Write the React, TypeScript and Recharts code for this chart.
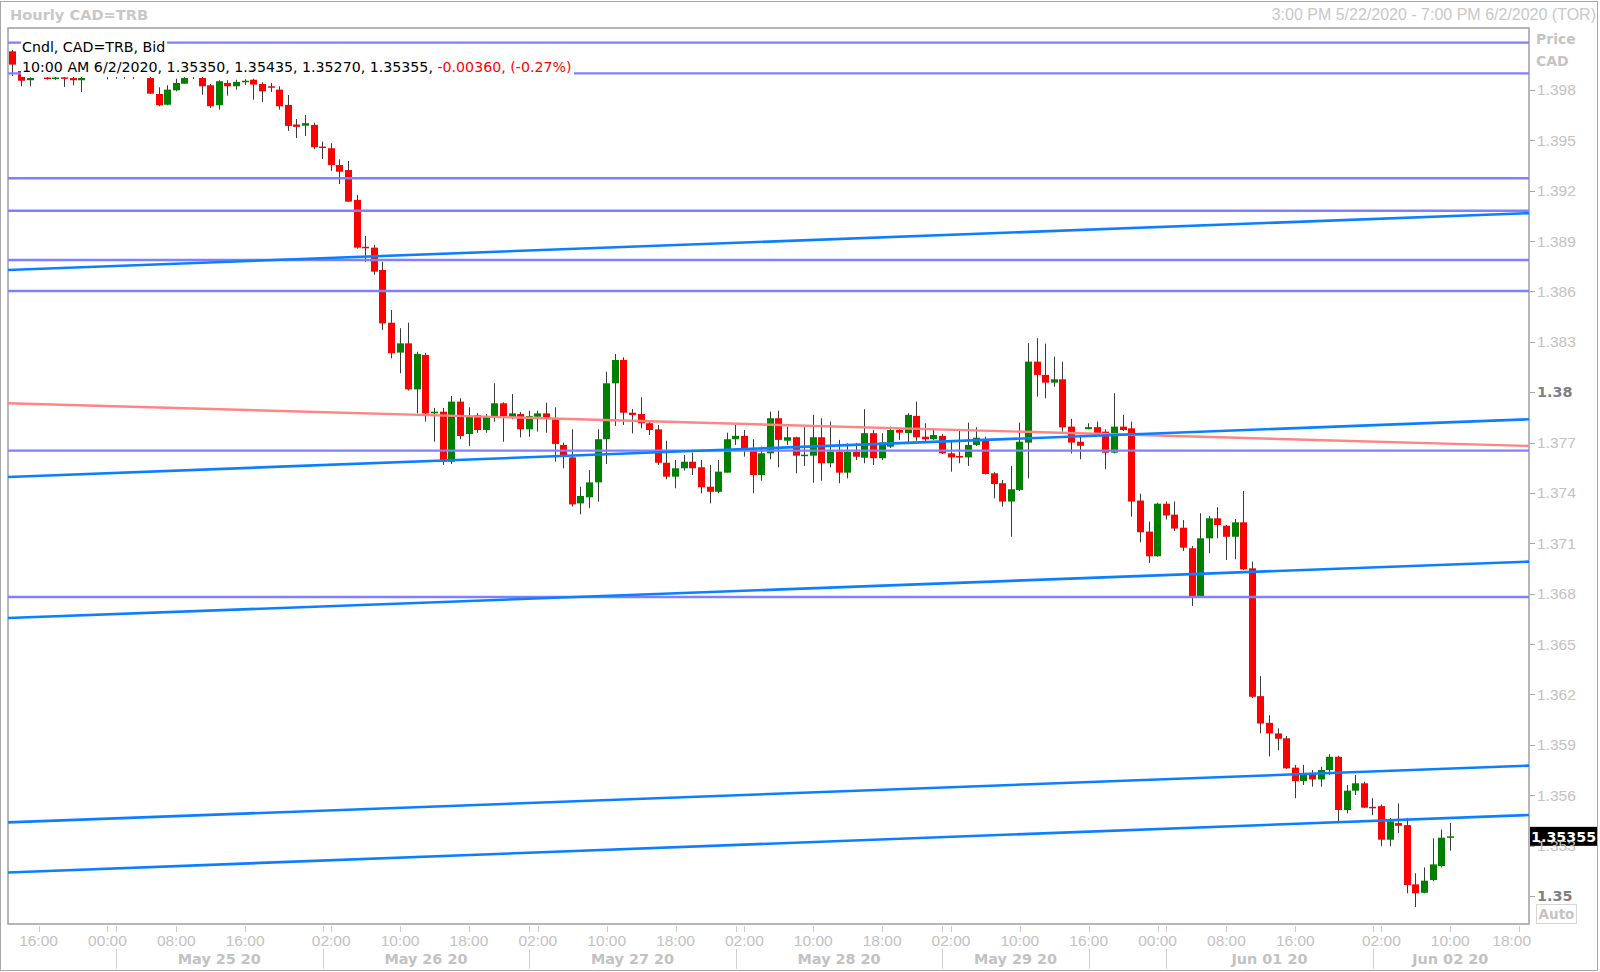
import React from 'react';
import { ComposedChart, Bar, XAxis, YAxis, ReferenceLine, ReferenceArea } from 'recharts';

// ---- hourly candles (slot = trading-hour index, Fri 22 May 15:00 ... Tue 2 Jun 10:00) ----
const opens = [
  1.40030, 1.39913, 1.39858, 1.39930, 1.39874, 1.39868, 1.39875, 1.39871, 1.39858, 1.39930,
  1.39920, 1.39919, 1.39913, 1.39920, 1.39910, 1.39920, 1.39871, 1.39776, 1.39712, 1.39798,
  1.39837, 1.39880, 1.39871, 1.39828, 1.39709, 1.39842, 1.39822, 1.39849, 1.39861, 1.39836,
  1.39822, 1.39802, 1.39711, 1.39594, 1.39587, 1.39592, 1.39463, 1.39453, 1.39353, 1.39323,
  1.39145, 1.38866, 1.38861, 1.38728, 1.38414, 1.38236, 1.38291, 1.38017, 1.38222, 1.37874,
  1.37884, 1.37586, 1.37944, 1.37751, 1.37864, 1.37775, 1.37858, 1.37934, 1.37851, 1.37870,
  1.37779, 1.37854, 1.37874, 1.37839, 1.37686, 1.37612, 1.37338, 1.37374, 1.37463, 1.37720,
  1.38053, 1.38192, 1.37878, 1.37870, 1.37815, 1.37779, 1.37580, 1.37497, 1.37547, 1.37586,
  1.37553, 1.37437, 1.37407, 1.37521, 1.37720, 1.37740, 1.37660, 1.37507, 1.37636, 1.37845,
  1.37711, 1.37732, 1.37624, 1.37622, 1.37732, 1.37577, 1.37646, 1.37521, 1.37646, 1.37610,
  1.37756, 1.37607, 1.37676, 1.37775, 1.37756, 1.37859, 1.37735, 1.37720, 1.37740, 1.37636,
  1.37620, 1.37612, 1.37686, 1.37722, 1.37517, 1.37458, 1.37349, 1.37418, 1.37700, 1.38182,
  1.38103, 1.38057, 1.38077, 1.37795, 1.37705, 1.37780, 1.37792, 1.37765, 1.37640, 1.37795,
  1.37785, 1.37355, 1.37170, 1.37023, 1.37336, 1.37271, 1.37193, 1.37071, 1.36782, 1.37130,
  1.37249, 1.37205, 1.37139, 1.37225, 1.36951, 1.36190, 1.36031, 1.35968, 1.35939, 1.35764,
  1.35684, 1.35726, 1.35694, 1.35750, 1.35829, 1.35512, 1.35627, 1.35671, 1.35531, 1.35535,
  1.35335, 1.35434, 1.35422, 1.35069, 1.35019, 1.35095, 1.35178, 1.35350,
];
const highs = [
  1.40038, 1.39930, 1.39875, 1.39950, 1.39900, 1.39890, 1.39880, 1.39880, 1.39880, 1.39940,
  1.39935, 1.39930, 1.39930, 1.39930, 1.39930, 1.39930, 1.39901, 1.39816, 1.39828, 1.39867,
  1.39900, 1.39910, 1.39900, 1.39836, 1.39858, 1.39858, 1.39861, 1.39864, 1.39867, 1.39846,
  1.39842, 1.39822, 1.39770, 1.39627, 1.39651, 1.39605, 1.39492, 1.39483, 1.39387, 1.39377,
  1.39175, 1.38930, 1.38877, 1.38777, 1.38490, 1.38381, 1.38414, 1.38241, 1.38235, 1.37906,
  1.37906, 1.37977, 1.37964, 1.37910, 1.37876, 1.37870, 1.38053, 1.37940, 1.37989, 1.37882,
  1.37890, 1.37890, 1.37938, 1.37910, 1.37700, 1.37779, 1.37437, 1.37537, 1.37779, 1.38122,
  1.38228, 1.38208, 1.37900, 1.37970, 1.37830, 1.37805, 1.37711, 1.37596, 1.37626, 1.37640,
  1.37596, 1.37567, 1.37596, 1.37759, 1.37805, 1.37775, 1.37720, 1.37676, 1.37884, 1.37890,
  1.37795, 1.37735, 1.37791, 1.37865, 1.37845, 1.37825, 1.37716, 1.37696, 1.37698, 1.37899,
  1.37775, 1.37756, 1.37795, 1.37785, 1.37875, 1.37944, 1.37815, 1.37775, 1.37751, 1.37705,
  1.37775, 1.37819, 1.37791, 1.37735, 1.37524, 1.37477, 1.37561, 1.37819, 1.38292, 1.38322,
  1.38289, 1.38212, 1.38182, 1.37841, 1.37745, 1.37815, 1.37825, 1.37779, 1.37994, 1.37865,
  1.37825, 1.37396, 1.37229, 1.37342, 1.37349, 1.37349, 1.37239, 1.37084, 1.37279, 1.37263,
  1.37315, 1.37209, 1.37245, 1.37412, 1.36991, 1.36309, 1.36076, 1.35998, 1.35953, 1.35780,
  1.35780, 1.35750, 1.35770, 1.35845, 1.35835, 1.35661, 1.35720, 1.35681, 1.35582, 1.35545,
  1.35464, 1.35551, 1.35464, 1.35135, 1.35170, 1.35343, 1.35396, 1.35435,
];
const lows = [
  1.39883, 1.39822, 1.39822, 1.39905, 1.39862, 1.39860, 1.39818, 1.39828, 1.39788, 1.39915,
  1.39910, 1.39863, 1.39867, 1.39867, 1.39867, 1.39905, 1.39776, 1.39703, 1.39709, 1.39792,
  1.39836, 1.39865, 1.39772, 1.39693, 1.39683, 1.39766, 1.39802, 1.39830, 1.39742, 1.39728,
  1.39788, 1.39683, 1.39556, 1.39514, 1.39526, 1.39447, 1.39389, 1.39318, 1.39240, 1.39133,
  1.38855, 1.38776, 1.38700, 1.38371, 1.38202, 1.38113, 1.38010, 1.37874, 1.37825, 1.37706,
  1.37567, 1.37572, 1.37720, 1.37680, 1.37759, 1.37759, 1.37825, 1.37705, 1.37839, 1.37731,
  1.37735, 1.37765, 1.37759, 1.37586, 1.37547, 1.37320, 1.37273, 1.37309, 1.37348, 1.37572,
  1.37799, 1.37805, 1.37755, 1.37785, 1.37745, 1.37567, 1.37481, 1.37428, 1.37533, 1.37507,
  1.37398, 1.37338, 1.37398, 1.37521, 1.37686, 1.37616, 1.37398, 1.37473, 1.37601, 1.37553,
  1.37686, 1.37517, 1.37561, 1.37461, 1.37473, 1.37553, 1.37458, 1.37487, 1.37596, 1.37577,
  1.37567, 1.37596, 1.37668, 1.37716, 1.37696, 1.37711, 1.37705, 1.37716, 1.37632, 1.37527,
  1.37577, 1.37561, 1.37680, 1.37510, 1.37368, 1.37319, 1.37139, 1.37412, 1.37487, 1.37974,
  1.37964, 1.38033, 1.37765, 1.37636, 1.37601, 1.37779, 1.37750, 1.37541, 1.37636, 1.37769,
  1.37259, 1.37106, 1.36983, 1.37021, 1.37242, 1.37173, 1.37054, 1.36727, 1.36780, 1.37041,
  1.37130, 1.37001, 1.37005, 1.36941, 1.36178, 1.35968, 1.35831, 1.35868, 1.35757, 1.35582,
  1.35661, 1.35651, 1.35651, 1.35720, 1.35442, 1.35492, 1.35601, 1.35524, 1.35481, 1.35296,
  1.35296, 1.35374, 1.35016, 1.34934, 1.35016, 1.35088, 1.35170, 1.35270,
];
const closes = [
  1.39951, 1.39855, 1.39871, 1.39915, 1.39868, 1.39874, 1.39870, 1.39858, 1.39871, 1.39920,
  1.39925, 1.39907, 1.39919, 1.39910, 1.39920, 1.39910, 1.39778, 1.39709, 1.39802, 1.39842,
  1.39871, 1.39890, 1.39822, 1.39703, 1.39852, 1.39822, 1.39848, 1.39855, 1.39832, 1.39792,
  1.39818, 1.39703, 1.39586, 1.39580, 1.39602, 1.39459, 1.39455, 1.39353, 1.39313, 1.39135,
  1.38861, 1.38857, 1.38718, 1.38410, 1.38232, 1.38291, 1.38017, 1.38228, 1.37874, 1.37884,
  1.37586, 1.37944, 1.37739, 1.37854, 1.37775, 1.37858, 1.37934, 1.37858, 1.37874, 1.37779,
  1.37858, 1.37874, 1.37844, 1.37692, 1.37620, 1.37332, 1.37382, 1.37463, 1.37720, 1.38053,
  1.38192, 1.37878, 1.37864, 1.37815, 1.37775, 1.37580, 1.37497, 1.37547, 1.37586, 1.37547,
  1.37434, 1.37407, 1.37527, 1.37720, 1.37740, 1.37660, 1.37507, 1.37636, 1.37845, 1.37716,
  1.37732, 1.37622, 1.37628, 1.37732, 1.37577, 1.37646, 1.37521, 1.37646, 1.37616, 1.37756,
  1.37607, 1.37700, 1.37775, 1.37759, 1.37865, 1.37732, 1.37720, 1.37745, 1.37636, 1.37612,
  1.37612, 1.37686, 1.37729, 1.37513, 1.37453, 1.37349, 1.37422, 1.37705, 1.38182, 1.38103,
  1.38057, 1.38077, 1.37791, 1.37700, 1.37681, 1.37792, 1.37752, 1.37640, 1.37795, 1.37775,
  1.37349, 1.37166, 1.37023, 1.37336, 1.37266, 1.37188, 1.37074, 1.36780, 1.37130, 1.37249,
  1.37209, 1.37139, 1.37225, 1.36945, 1.36186, 1.36027, 1.35968, 1.35936, 1.35760, 1.35684,
  1.35726, 1.35694, 1.35750, 1.35829, 1.35512, 1.35627, 1.35671, 1.35526, 1.35527, 1.35335,
  1.35444, 1.35418, 1.35065, 1.35016, 1.35091, 1.35188, 1.35347, 1.35355,
];

// ---- axes ----
const X_MIN = -0.55;
const X_MAX = 176.15;
const Y_MIN = 1.34833;
const Y_MAX = 1.40169;

const timeTickSlots = [3, 11, 19, 27, 37, 45, 53, 61, 69, 77, 85, 93, 101, 109, 117, 125, 133, 141, 149, 159, 167, 175];
const timeTickLabels = ['16:00', '00:00', '08:00', '16:00', '02:00', '10:00', '18:00', '02:00', '10:00', '18:00', '02:00',
  '10:00', '18:00', '02:00', '10:00', '16:00', '00:00', '08:00', '16:00', '02:00', '10:00', '18:00'];
const daySepSlots = [12, 36, 60, 84, 108, 125, 134, 158];
const dateLabelSlots = [24, 48, 72, 96, 116.5, 146, 167];
const dateLabels = ['May 25 20', 'May 26 20', 'May 27 20', 'May 28 20', 'May 29 20', 'Jun 01 20', 'Jun 02 20'];

const yTickValues = [1.398, 1.395, 1.392, 1.389, 1.386, 1.383, 1.38, 1.377, 1.374, 1.371, 1.368, 1.365, 1.362, 1.359, 1.356, 1.353, 1.35];
const yTickLabels = ['1.398', '1.395', '1.392', '1.389', '1.386', '1.383', '1.38', '1.377', '1.374', '1.371', '1.368', '1.365',
  '1.362', '1.359', '1.356', '1.353', '1.35'];
const yBoldLabels = ['1.38', '1.35'];

// ---- drawn studies ----
const horizontalLevels = [1.40082, 1.39899, 1.39274, 1.39081, 1.38787, 1.38603, 1.37652, 1.36780];
const trendStart = [1.38728, 1.37495, 1.36655, 1.35438, 1.35140];
const trendEnd = [1.39066, 1.37839, 1.36991, 1.35776, 1.35482];
const redLineStart = 1.37934;
const redLineEnd = 1.37680;

const lastInfoTime = '10:00 AM 6/2/2020';
const changeText = '-0.00360, (-0.27%)';

const candles = opens.map((o, i) => ({ slot: i, o, h: highs[i], l: lows[i], c: closes[i] }));
const last = candles[candles.length - 1];

const FONT = "'Liberation Sans', Arial, sans-serif";
const FONT_V = "'DejaVu Sans', Verdana, sans-serif";
const LABEL_GRAY = '#c2c2c2';

const Candle = (props: any) => {
  const { x, y, width, height, payload } = props;
  if (x == null || y == null || !payload) return null;
  const { o, h, l, c } = payload;
  const k = h - l > 0 ? height / (h - l) : 0;
  const yOf = (p: number) => y + (h - p) * k;
  const cx = x + width / 2;
  const bx = Math.round(cx - 3.5);
  const wx = bx + 3.5;
  const up = c >= o;
  const top = yOf(Math.max(o, c));
  const bot = yOf(Math.min(o, c));
  const bh = Math.max(bot - top, 1.5);
  return (
    <g>
      <line x1={wx} x2={wx} y1={y} y2={y + height} stroke="#3a3a3a" strokeWidth={1} />
      <rect x={bx} y={top} width={7} height={bh} fill={up ? '#008000' : '#ff0000'} />
    </g>
  );
};

const allTimeTicks = Array.from(new Set([...timeTickSlots, ...daySepSlots])).sort((a, b) => a - b);
const allDateTicks = [...daySepSlots, ...dateLabelSlots].sort((a, b) => a - b);

const TimeTick = (props: any) => {
  const { x, y, payload } = props;
  const v = payload.value;
  const idx = timeTickSlots.indexOf(v);
  const tx = Math.round(x) + 0.5;
  const isLast = idx === timeTickSlots.length - 1;
  return (
    <g>
      <line x1={tx} x2={tx} y1={y + 2} y2={y + 8} stroke="#cccccc" />
      {idx >= 0 && (
        <text x={isLast ? x + 12 : x} y={y + 16} textAnchor={isLast ? 'end' : 'middle'} dominantBaseline="central"
          fontFamily={FONT} fontSize={15.5} fill={LABEL_GRAY}>{timeTickLabels[idx]}</text>
      )}
    </g>
  );
};

const DateTick = (props: any) => {
  const { x, y, payload } = props;
  const v = payload.value;
  const li = dateLabelSlots.indexOf(v);
  if (li >= 0) {
    return (
      <text x={x} y={y + 13} textAnchor="middle" dominantBaseline="central" fontFamily={FONT_V}
        fontWeight="bold" fontSize={14.4} fill={LABEL_GRAY}>{dateLabels[li]}</text>
    );
  }
  const tx = Math.round(x) + 0.5;
  return <line x1={tx} x2={tx} y1={y + 3} y2={y + 23} stroke="#d0d0d0" />;
};

const PriceTick = (props: any) => {
  const { x, y, payload } = props;
  const i = yTickValues.indexOf(payload.value);
  if (i < 0) return null;
  const label = yTickLabels[i];
  const bold = yBoldLabels.includes(label);
  const ty = Math.round(y) + 0.5;
  return (
    <g>
      <line x1={x + 1} x2={x + 6} y1={ty} y2={ty} stroke="#a8a8a8" />
      {bold ? (
        <text x={x + 8} y={y} dominantBaseline="central" fontFamily={FONT_V} fontWeight="bold" fontSize={14.4} fill="#808080">{label}</text>
      ) : (
        <text x={x + 8} y={y} dominantBaseline="central" fontFamily={FONT} fontSize={15.5} fill={LABEL_GRAY}>{label}</text>
      )}
    </g>
  );
};

const PriceTag = (props: any) => {
  const vb = props.viewBox || {};
  if (vb.x == null) return null;
  const right = vb.x + vb.width;
  const cy = vb.y;
  return (
    <g>
      <rect x={right + 1} y={cy - 9.5} width={68} height={19} fill="#000" />
      <text x={right + 2} y={cy + 0.5} dominantBaseline="central" fill="#fff" fontFamily={FONT_V} fontWeight="bold" fontSize={14.3}>
        {last.c.toFixed(5)}
      </text>
    </g>
  );
};

export default function App() {
  return (
    <div style={{ position: 'absolute', left: 0, top: 0, width: 1600, height: 972, background: '#fff', overflow: 'hidden' }}>
      <ComposedChart width={1600} height={972} data={candles} margin={{ top: 28, right: 0, bottom: 0, left: 8 }}>
        <XAxis xAxisId={0} type="number" dataKey="slot" domain={[X_MIN, X_MAX]} allowDataOverflow ticks={allTimeTicks}
          interval={0} tick={<TimeTick />} tickLine={false} axisLine={false} tickSize={0} tickMargin={0} height={22} />
        <XAxis xAxisId="date" type="number" dataKey="slot" domain={[X_MIN, X_MAX]} allowDataOverflow ticks={allDateTicks}
          interval={0} tick={<DateTick />} tickLine={false} axisLine={false} tickSize={0} tickMargin={0} height={26} />
        <YAxis yAxisId={0} type="number" orientation="right" width={71} domain={[Y_MIN, Y_MAX]} allowDataOverflow
          ticks={yTickValues} interval={0} tick={<PriceTick />} tickLine={false} axisLine={false} tickSize={0} tickMargin={0} />
        <ReferenceArea xAxisId={0} yAxisId={0} x1={X_MIN} x2={X_MAX} y1={Y_MIN} y2={Y_MAX} fill="none" fillOpacity={0}
          stroke="#a0a0a0" strokeWidth={1.5} ifOverflow="visible" />
        <Bar xAxisId={0} yAxisId={0} dataKey={(d: any) => [d.l, d.h]} shape={<Candle />} barCategoryGap={0.3}
          isAnimationActive={false} />
        {horizontalLevels.map((v, i) => (
          <ReferenceLine key={'h' + i} xAxisId={0} yAxisId={0} y={v} stroke="#8080ff" strokeWidth={2.4} ifOverflow="hidden" />
        ))}
        <ReferenceLine xAxisId={0} yAxisId={0} segment={[{ x: X_MIN, y: redLineStart }, { x: X_MAX, y: redLineEnd }]}
          stroke="#ff8585" strokeWidth={2.4} ifOverflow="visible" />
        {trendStart.map((v, i) => (
          <ReferenceLine key={'t' + i} xAxisId={0} yAxisId={0} segment={[{ x: X_MIN, y: v }, { x: X_MAX, y: trendEnd[i] }]}
            stroke="#0a80ff" strokeWidth={2.6} ifOverflow="visible" />
        ))}
        <ReferenceLine xAxisId={0} yAxisId={0} y={last.c} stroke="none" ifOverflow="visible" label={<PriceTag />} />
      </ComposedChart>

      {/* outer frame */}
      <div style={{ position: 'absolute', left: 0, top: 1, width: 1598, height: 970, boxSizing: 'border-box', border: '1px solid #a8a8a8', pointerEvents: 'none' }} />

      {/* header */}
      <div style={{ position: 'absolute', left: 10, top: 6, fontFamily: FONT_V, fontWeight: 'bold', fontSize: 14.6, color: '#c8c8c8', whiteSpace: 'nowrap' }}>
        Hourly CAD=TRB
      </div>
      <div style={{ position: 'absolute', right: 4, top: 6, fontFamily: FONT, fontSize: 16, color: '#c8c8c8', whiteSpace: 'nowrap' }}>
        3:00 PM 5/22/2020 - 7:00 PM 6/2/2020 (TOR)
      </div>

      {/* info box */}
      <div style={{ position: 'absolute', left: 21, top: 37, fontFamily: FONT_V, fontSize: 14.2, lineHeight: '20px', color: '#000', whiteSpace: 'nowrap' }}>
        <div style={{ background: '#fff', display: 'inline-block', paddingLeft: 1, paddingRight: 2 }}>Cndl, CAD=TRB, Bid</div>
        <br />
        <div style={{ background: '#fff', display: 'inline-block', paddingLeft: 1, paddingRight: 2 }}>
          {lastInfoTime}, {last.o.toFixed(5)}, {last.h.toFixed(5)}, {last.l.toFixed(5)}, {last.c.toFixed(5)},{' '}
          <span style={{ color: '#ff0000' }}>{changeText}</span>
        </div>
      </div>

      {/* axis captions */}
      <div style={{ position: 'absolute', left: 1536, top: 28, fontFamily: FONT_V, fontWeight: 'bold', fontSize: 14, lineHeight: '22px', color: '#c4c4c4' }}>
        Price<br />CAD
      </div>
      <div style={{ position: 'absolute', left: 1536, top: 904, width: 41, height: 20, boxSizing: 'border-box', border: '1px solid #d6d6d6',
        fontFamily: FONT_V, fontWeight: 'bold', fontSize: 13.5, lineHeight: '18px', textAlign: 'center', color: '#c4c4c4' }}>
        Auto
      </div>
    </div>
  );
}
